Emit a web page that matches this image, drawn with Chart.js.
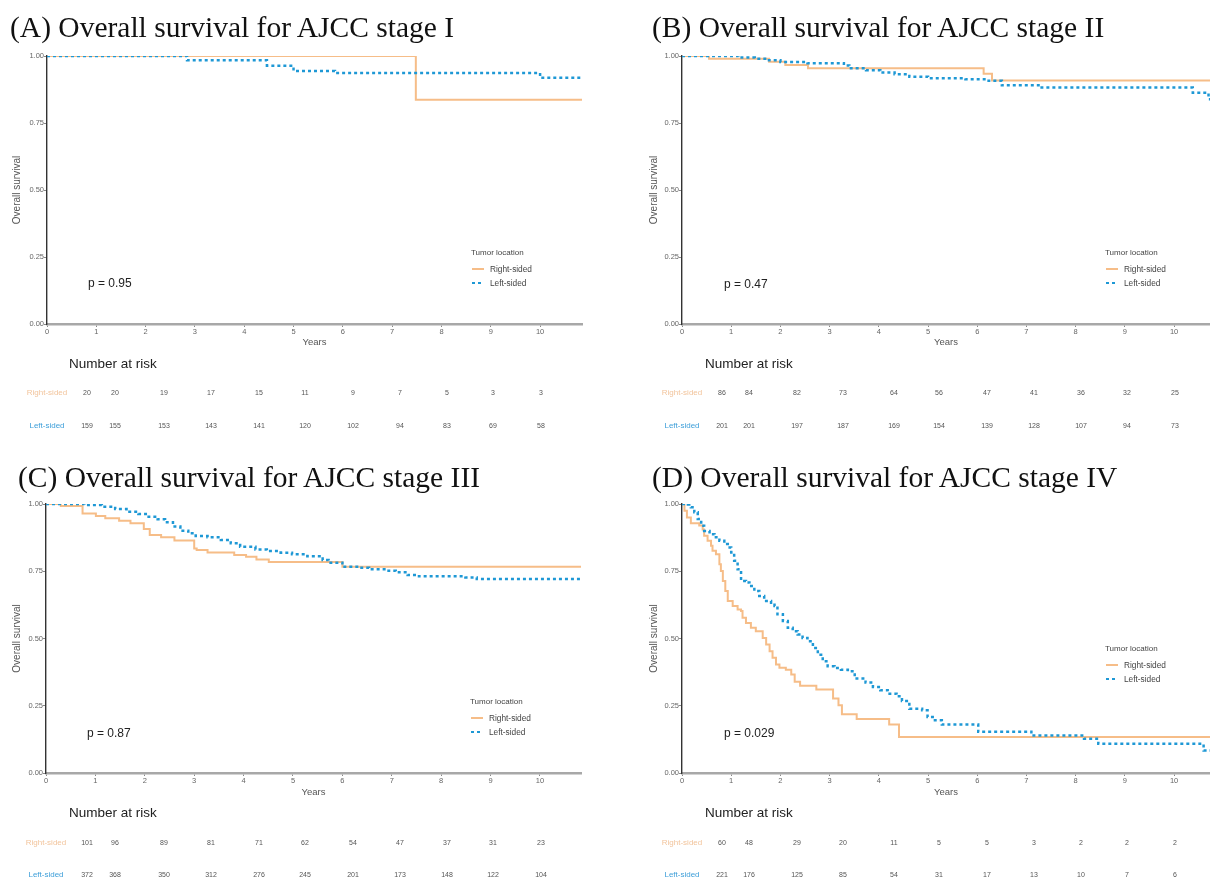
<!DOCTYPE html>
<html><head><meta charset="utf-8">
<script src="https://cdn.jsdelivr.net/npm/chart.js@4.4.1/dist/chart.umd.min.js"></script>
<style>
html,body{margin:0;padding:0;background:#fff;}
#root{position:relative;width:1210px;height:880px;overflow:hidden;background:#fff;font-family:"Liberation Sans",Arial,sans-serif;}
canvas{position:absolute;}
.t{position:absolute;white-space:nowrap;}
</style></head><body><div id="root"></div>
<script>
// ---------------- data ----------------
const panelTitles = ['(A) Overall survival for AJCC stage I','(B) Overall survival for AJCC stage II','(C) Overall survival for AJCC stage III','(D) Overall survival for AJCC stage IV'];
const groupNames = ['Right-sided','Left-sided'];
const legendTitle = 'Tumor location';
const pValues = ['p = 0.95','p = 0.47','p = 0.87','p = 0.029'];
const xTicks = [0,1,2,3,4,5,6,7,8,9,10];
const xTickLabels = ['0','1','2','3','4','5','6','7','8','9','10'];
const yTicks = [0,0.25,0.5,0.75,1];
const yTickLabels = ['0.00','0.25','0.50','0.75','1.00'];

const A_rightTime = [0, 7.48, 10.85];
const A_rightSurv = [1, 0.837, 0.837];
const A_leftTime = [0, 2.84, 4.46, 5.0, 5.84, 10.0, 10.85];
const A_leftSurv = [1, 0.984, 0.964, 0.944, 0.937, 0.919, 0.919];
const A_riskRight = [20,20,19,17,15,11,9,7,5,3,3];
const A_riskLeft = [159,155,153,143,141,120,102,94,83,69,58];

const B_rightTime = [0, 0.55, 1.77, 2.1, 2.56, 6.13, 6.3, 10.73];
const B_rightSurv = [1, 0.99, 0.979, 0.966, 0.954, 0.934, 0.909, 0.909];
const B_leftTime = [0,1.15,1.48,1.74,2.0,2.55,3.29,3.4,3.74,4.03,4.32,4.62,5.0,5.76,6.2,6.5,7.28,10.38,10.7,10.73];
const B_leftSurv = [1,0.994,0.99,0.984,0.978,0.973,0.965,0.954,0.947,0.938,0.932,0.923,0.917,0.913,0.908,0.891,0.882,0.863,0.839,0.839];
const B_riskRight = [86,84,82,73,64,56,47,41,36,32,25];
const B_riskLeft = [201,201,197,187,169,154,139,128,107,94,73];

const C_rightTime = [0,0.3,0.74,1.01,1.2,1.48,1.71,1.98,2.1,2.33,2.6,3.0,3.05,3.27,3.81,4.05,4.26,4.51,6.0,10.83];
const C_rightSurv = [1,0.993,0.965,0.955,0.947,0.938,0.928,0.907,0.885,0.876,0.864,0.835,0.829,0.82,0.81,0.804,0.794,0.784,0.767,0.767];
const C_leftTime = [0,0.78,1.13,1.4,1.63,1.87,2.02,2.26,2.41,2.57,2.72,2.88,3.03,3.27,3.54,3.74,3.93,4.24,4.47,4.75,4.98,5.29,5.6,5.72,6.0,6.34,6.54,6.85,7.08,7.32,7.55,8.49,8.72,10.83];
const C_leftSurv = [1,0.996,0.99,0.981,0.971,0.963,0.953,0.943,0.932,0.916,0.901,0.891,0.881,0.876,0.866,0.854,0.841,0.831,0.825,0.819,0.813,0.806,0.792,0.782,0.767,0.763,0.757,0.752,0.746,0.736,0.731,0.727,0.721,0.721];
const C_riskRight = [101,96,89,81,71,62,54,47,37,31,23];
const C_riskLeft = [372,368,350,312,276,245,201,173,148,122,104];

const D_rightTime = [0,0.05,0.1,0.18,0.35,0.42,0.45,0.52,0.59,0.62,0.69,0.76,0.79,0.83,0.88,0.93,1.03,1.13,1.2,1.23,1.3,1.4,1.5,1.64,1.71,1.78,1.84,1.91,1.98,2.11,2.22,2.29,2.4,2.73,3.07,3.18,3.25,3.55,4.21,4.41,10.73];
const D_rightSurv = [1,0.975,0.95,0.928,0.92,0.905,0.882,0.863,0.845,0.826,0.813,0.776,0.751,0.714,0.677,0.639,0.621,0.608,0.602,0.577,0.558,0.54,0.527,0.502,0.478,0.453,0.428,0.403,0.391,0.384,0.366,0.339,0.324,0.31,0.277,0.252,0.218,0.201,0.18,0.134,0.134];
const D_leftTime = [0,0.12,0.18,0.25,0.32,0.39,0.45,0.56,0.66,0.76,0.86,0.93,1.0,1.06,1.13,1.2,1.3,1.37,1.47,1.57,1.67,1.81,1.88,1.94,2.05,2.15,2.25,2.35,2.45,2.55,2.66,2.76,2.86,2.96,3.1,3.23,3.37,3.51,3.73,3.88,4.03,4.18,4.36,4.47,4.62,4.88,4.99,5.14,5.28,6.02,7.1,8.17,8.46,10.6,10.73];
const D_leftSurv = [1,0.998,0.988,0.969,0.944,0.919,0.9,0.888,0.876,0.863,0.851,0.838,0.82,0.789,0.757,0.714,0.708,0.695,0.677,0.658,0.639,0.633,0.621,0.59,0.565,0.54,0.527,0.515,0.502,0.49,0.465,0.44,0.415,0.397,0.39,0.384,0.378,0.351,0.336,0.32,0.308,0.295,0.285,0.268,0.239,0.233,0.208,0.196,0.18,0.153,0.139,0.127,0.109,0.084,0.084];
const D_riskRight = [60,48,29,20,11,5,5,3,2,2,2];
const D_riskLeft = [221,176,125,85,54,31,17,13,10,7,6];

// ---------------- layout & style ----------------
const ORANGE = '#F6BD88', BLUE = '#1E98D5';
const SANS = '"Liberation Sans", Arial, sans-serif';
const colsL = [87,115,164,211,259,305,353,400,447,493,541];
const colsR = [722,749,797,843,894,939,987,1034,1081,1127,1175];
const panels = [
  {L:{left:0,top:40,w:600,h:310,padTop:16,padRight:18,yW:47,xH:26,xMax:10.85,yTitlePad:11,titleX:10,titleBase:37,pX:88,pY:283,legX:471,legY:253,narX:69,narY:363,rowY:[393,426],labelCX:47,cols:colsL},
   rt:A_rightTime, rs:A_rightSurv, lt:A_leftTime, ls:A_leftSurv, rr:A_riskRight, rl:A_riskLeft},
  {L:{left:640,top:40,w:570,h:310,padTop:16,padRight:0,yW:42,xH:26,xMax:10.73,yTitlePad:8,titleX:652,titleBase:37,pX:724,pY:284,legX:1105,legY:253,narX:705,narY:363,rowY:[393,426],labelCX:682,cols:colsR},
   rt:B_rightTime, rs:B_rightSurv, lt:B_leftTime, ls:B_leftSurv, rr:B_riskRight, rl:B_riskLeft},
  {L:{left:0,top:490,w:600,h:310,padTop:14,padRight:19,yW:46,xH:27,xMax:10.83,yTitlePad:11,titleX:18,titleBase:487,pX:87,pY:733,legX:470,legY:702,narX:69,narY:812,rowY:[843,875],labelCX:46,cols:colsL},
   rt:C_rightTime, rs:C_rightSurv, lt:C_leftTime, ls:C_leftSurv, rr:C_riskRight, rl:C_riskLeft},
  {L:{left:640,top:490,w:570,h:310,padTop:14,padRight:0,yW:42,xH:27,xMax:10.73,yTitlePad:8,titleX:652,titleBase:487,pX:724,pY:733,legX:1105,legY:649,narX:705,narY:812,rowY:[843,875],labelCX:682,cols:colsR},
   rt:D_rightTime, rs:D_rightSurv, lt:D_leftTime, ls:D_leftSurv, rr:D_riskRight, rl:D_riskLeft}
];

const root = document.getElementById('root');
function txt(x, cy, s, size, color, center, family) {
  const d = document.createElement('div');
  d.className = 't'; d.textContent = s;
  d.style.left = x + 'px'; d.style.top = (cy - size) + 'px';
  d.style.lineHeight = (2 * size) + 'px'; d.style.fontSize = size + 'px';
  d.style.color = color;
  if (family) d.style.fontFamily = family;
  if (center) d.style.transform = 'translateX(-50%)';
  root.appendChild(d); return d;
}
function title(x, base, s) {
  const size = 29.5;
  const d = document.createElement('div');
  d.className = 't'; d.textContent = s;
  d.style.left = x + 'px'; d.style.top = (base - 1.3375 * size) + 'px';
  d.style.lineHeight = (2 * size) + 'px'; d.style.fontSize = size + 'px';
  d.style.fontFamily = '"Liberation Serif", "Times New Roman", serif'; d.style.color = '#111';
  root.appendChild(d);
}
function sample(x, cy, dashed) {
  const d = document.createElement('div');
  d.style.position = 'absolute'; d.style.left = x + 'px'; d.style.top = (cy - 1.25) + 'px';
  d.style.width = '12px'; d.style.height = (dashed ? 2.5 : 2) + 'px';
  d.style.background = dashed ? `repeating-linear-gradient(90deg, ${BLUE} 0 3px, transparent 3px 6px)` : ORANGE;
  root.appendChild(d);
}
const pts = (t, s) => t.map((x, i) => ({x: x, y: s[i]}));

panels.forEach((P, k) => {
  const L = P.L;
  const cv = document.createElement('canvas');
  cv.width = L.w; cv.height = L.h;
  cv.style.left = L.left + 'px'; cv.style.top = L.top + 'px';
  cv.style.width = L.w + 'px'; cv.style.height = L.h + 'px';
  root.appendChild(cv);
  new Chart(cv, {
    type: 'line',
    data: {datasets: [
      {label: groupNames[0], data: pts(P.rt, P.rs), stepped: true, borderColor: ORANGE, borderWidth: 2, pointRadius: 0, fill: false, order: 2},
      {label: groupNames[1], data: pts(P.lt, P.ls), stepped: true, borderColor: BLUE, borderWidth: 2.5, borderDash: [3, 3], pointRadius: 0, fill: false, order: 1}
    ]},
    options: {
      responsive: false, animation: false, devicePixelRatio: 1, events: [],
      layout: {padding: {top: L.padTop, right: L.padRight, left: 0, bottom: 0}},
      plugins: {legend: {display: false}, tooltip: {enabled: false}},
      scales: {
        x: {type: 'linear', min: 0, max: L.xMax,
          afterFit: s => { s.height = L.xH; },
          afterBuildTicks: s => { s.ticks = xTicks.map(v => ({value: v})); },
          ticks: {font: {size: 7.5, family: SANS}, color: '#666', padding: 0, maxRotation: 0, autoSkip: false,
                  callback: (v, i) => xTickLabels[i]},
          grid: {drawOnChartArea: false, drawTicks: true, tickLength: 3, color: '#888'},
          border: {display: true, color: '#a8a8a8', width: 2.5},
          title: {display: true, text: 'Years', font: {size: 9.5, family: SANS}, color: '#555', padding: {top: 0, bottom: 2.3}}
        },
        y: {type: 'linear', min: 0, max: 1,
          afterFit: s => { s.width = L.yW; },
          afterBuildTicks: s => { s.ticks = yTicks.map(v => ({value: v})); },
          ticks: {font: {size: 7.5, family: SANS}, color: '#666', padding: 0, autoSkip: false,
                  callback: (v, i) => yTickLabels[i]},
          grid: {drawOnChartArea: false, drawTicks: true, tickLength: 3, color: '#888'},
          border: {display: true, color: '#333', width: 1.4},
          title: {display: true, text: 'Overall survival', font: {size: 10, family: SANS}, color: '#555', padding: {top: L.yTitlePad, bottom: 0}}
        }
      }
    }
  });

  title(L.titleX, L.titleBase, panelTitles[k]);
  txt(L.pX, L.pY, pValues[k], 12, '#222');
  txt(L.legX, L.legY, legendTitle, 8, '#444');
  sample(L.legX + 1, L.legY + 16, false);
  txt(L.legX + 19, L.legY + 16, groupNames[0], 8.3, '#444');
  sample(L.legX + 1, L.legY + 30, true);
  txt(L.legX + 19, L.legY + 30, groupNames[1], 8.3, '#444');
  txt(L.narX, L.narY, 'Number at risk', 13.5, '#222');
  txt(L.labelCX, L.rowY[0], groupNames[0], 8, '#F2C49C', true);
  txt(L.labelCX, L.rowY[1], groupNames[1], 8, '#3E9FD9', true);
  P.rr.forEach((n, i) => txt(L.cols[i], L.rowY[0], String(n), 7, '#555', true));
  P.rl.forEach((n, i) => txt(L.cols[i], L.rowY[1], String(n), 7, '#555', true));
});
</script></body></html>
